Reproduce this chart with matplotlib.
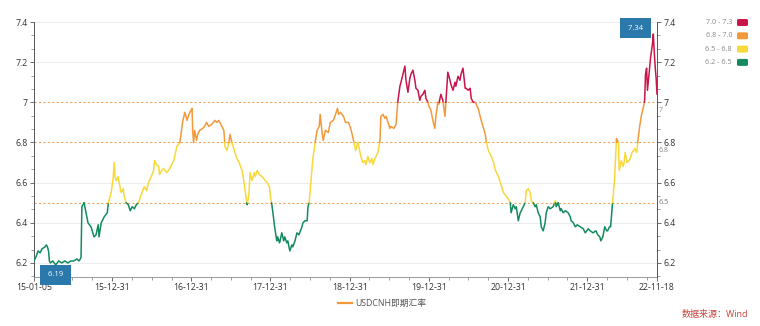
import matplotlib
matplotlib.use("Agg")
import matplotlib.pyplot as plt
import matplotlib.dates as mdates
from matplotlib.lines import Line2D
from matplotlib.patches import FancyBboxPatch
from matplotlib.ticker import AutoMinorLocator
import numpy as np
import datetime as dt

plt.rcParams['font.family'] = ['Open Sans', 'Noto Sans CJK SC', 'DejaVu Sans']

# USDCNH spot (month-day, rate) per year
y2015 = [("01-05", 6.21), ("01-14", 6.23), ("01-24", 6.26), ("02-02", 6.25), ("02-11", 6.27),
         ("02-25", 6.28), ("03-03", 6.29), ("03-08", 6.28), ("03-13", 6.26), ("03-17", 6.21),
         ("03-22", 6.20), ("04-01", 6.21), ("04-15", 6.19), ("04-29", 6.21), ("05-13", 6.20),
         ("05-27", 6.21), ("06-10", 6.20), ("06-24", 6.21), ("07-08", 6.21), ("07-22", 6.22),
         ("07-31", 6.21), ("08-07", 6.22), ("08-10", 6.23), ("08-14", 6.48), ("08-24", 6.50),
         ("09-02", 6.45), ("09-11", 6.40), ("09-25", 6.38), ("10-09", 6.33), ("10-18", 6.34),
         ("10-28", 6.39), ("11-01", 6.33), ("11-11", 6.40), ("11-25", 6.43), ("12-09", 6.45),
         ("12-14", 6.50), ("12-27", 6.55)]
y2016 = [("01-05", 6.62), ("01-10", 6.70), ("01-14", 6.63), ("01-19", 6.61), ("01-28", 6.63),
         ("02-02", 6.60), ("02-11", 6.55), ("02-21", 6.57), ("02-25", 6.53), ("03-05", 6.50),
         ("03-15", 6.49), ("03-24", 6.46), ("04-02", 6.48), ("04-12", 6.47), ("04-21", 6.49),
         ("05-01", 6.50), ("05-14", 6.54), ("05-24", 6.57), ("05-28", 6.58), ("06-07", 6.56),
         ("06-16", 6.60), ("06-25", 6.62), ("07-10", 6.66), ("07-14", 6.71), ("07-23", 6.69),
         ("08-02", 6.68), ("08-06", 6.64), ("08-16", 6.66), ("08-25", 6.67), ("09-08", 6.65),
         ("09-22", 6.67), ("10-01", 6.69), ("10-11", 6.71), ("10-25", 6.78), ("11-08", 6.80),
         ("11-18", 6.88), ("11-22", 6.91), ("12-01", 6.95), ("12-11", 6.91), ("12-20", 6.94),
         ("12-29", 6.96)]
y2017 = [("01-03", 6.97), ("01-06", 6.86), ("01-10", 6.80), ("01-15", 6.86), ("01-24", 6.81),
         ("01-29", 6.84), ("02-07", 6.86), ("02-21", 6.87), ("03-02", 6.88), ("03-11", 6.90),
         ("03-21", 6.88), ("04-04", 6.89), ("04-18", 6.91), ("04-27", 6.90), ("05-07", 6.91),
         ("05-16", 6.89), ("05-30", 6.86), ("06-04", 6.78), ("06-13", 6.76), ("06-22", 6.80),
         ("06-27", 6.84), ("07-06", 6.80), ("07-20", 6.75), ("07-29", 6.72), ("08-08", 6.70),
         ("08-22", 6.66), ("08-31", 6.60), ("09-05", 6.56), ("09-14", 6.49), ("09-19", 6.52),
         ("09-23", 6.55), ("09-28", 6.65), ("10-07", 6.61), ("10-17", 6.65), ("10-21", 6.63),
         ("10-31", 6.66), ("11-09", 6.64), ("11-23", 6.63), ("12-07", 6.61), ("12-16", 6.60),
         ("12-26", 6.58)]
y2018 = [("01-01", 6.52), ("01-05", 6.50), ("01-10", 6.46), ("01-19", 6.38), ("01-29", 6.31),
         ("02-02", 6.33), ("02-11", 6.30), ("02-21", 6.35), ("03-02", 6.31), ("03-07", 6.33),
         ("03-16", 6.30), ("03-21", 6.31), ("03-30", 6.26), ("04-09", 6.29), ("04-13", 6.28),
         ("04-23", 6.31), ("05-02", 6.35), ("05-11", 6.34), ("05-25", 6.38), ("05-30", 6.40),
         ("06-08", 6.41), ("06-18", 6.41), ("06-22", 6.48), ("06-27", 6.50), ("07-06", 6.61),
         ("07-11", 6.68), ("07-16", 6.73), ("07-25", 6.80), ("08-03", 6.86), ("08-13", 6.88),
         ("08-17", 6.94), ("08-27", 6.84), ("08-31", 6.81), ("09-10", 6.86), ("09-24", 6.85),
         ("10-03", 6.90), ("10-17", 6.91), ("10-27", 6.94), ("11-05", 6.97), ("11-10", 6.94),
         ("11-19", 6.95), ("12-03", 6.93), ("12-12", 6.90), ("12-26", 6.90)]
y2019 = [("01-05", 6.87), ("01-14", 6.83), ("01-24", 6.78), ("01-28", 6.76), ("02-07", 6.80),
         ("02-11", 6.78), ("02-21", 6.73), ("03-02", 6.70), ("03-11", 6.71), ("03-16", 6.69),
         ("03-25", 6.73), ("04-03", 6.70), ("04-13", 6.72), ("04-17", 6.69), ("04-27", 6.72),
         ("05-06", 6.74), ("05-10", 6.75), ("05-20", 6.81), ("05-24", 6.93), ("06-03", 6.94),
         ("06-12", 6.92), ("06-17", 6.93), ("06-26", 6.90), ("07-05", 6.87), ("07-10", 6.88),
         ("07-23", 6.87), ("08-02", 6.89), ("08-11", 7.01), ("08-20", 7.08), ("08-25", 7.10),
         ("09-03", 7.14), ("09-12", 7.18), ("09-17", 7.11), ("09-26", 7.05), ("10-05", 7.12),
         ("10-10", 7.14), ("10-19", 7.16), ("10-28", 7.11), ("11-02", 7.07), ("11-11", 7.06),
         ("11-20", 7.01), ("11-25", 7.03), ("12-04", 7.04), ("12-13", 7.06), ("12-18", 7.02),
         ("12-27", 7.00)]
y2020 = [("01-01", 6.98), ("01-10", 6.96), ("01-19", 6.91), ("01-28", 6.87), ("02-02", 6.93),
         ("02-11", 7.00), ("02-15", 6.99), ("02-25", 7.04), ("03-05", 7.01), ("03-15", 6.93),
         ("03-19", 7.00), ("03-28", 7.15), ("04-07", 7.11), ("04-11", 7.09), ("04-21", 7.06),
         ("04-30", 7.10), ("05-04", 7.08), ("05-14", 7.13), ("05-23", 7.11), ("05-28", 7.14),
         ("06-06", 7.17), ("06-16", 7.07), ("06-20", 7.07), ("06-30", 7.06), ("07-09", 7.07),
         ("07-14", 7.02), ("07-23", 7.00), ("08-01", 7.00), ("08-06", 6.99), ("08-15", 6.97),
         ("08-29", 6.91), ("09-17", 6.84), ("09-22", 6.80), ("10-01", 6.76), ("10-06", 6.75),
         ("10-15", 6.73), ("10-25", 6.70), ("11-03", 6.66), ("11-17", 6.63), ("12-01", 6.58),
         ("12-10", 6.55), ("12-24", 6.53)]
y2021 = [("01-01", 6.52), ("01-10", 6.50), ("01-14", 6.45), ("01-24", 6.49), ("02-02", 6.47),
         ("02-07", 6.48), ("02-16", 6.41), ("02-25", 6.45), ("03-02", 6.46), ("03-11", 6.48),
         ("03-20", 6.50), ("03-25", 6.56), ("04-03", 6.57), ("04-12", 6.55), ("04-17", 6.51),
         ("04-26", 6.50), ("05-05", 6.48), ("05-10", 6.49), ("05-19", 6.45), ("05-28", 6.43),
         ("06-02", 6.38), ("06-11", 6.36), ("06-20", 6.40), ("06-25", 6.45), ("07-04", 6.48),
         ("07-13", 6.47), ("07-27", 6.48), ("08-06", 6.51), ("08-10", 6.48), ("08-19", 6.50),
         ("08-29", 6.46), ("09-02", 6.47), ("09-11", 6.45), ("09-21", 6.46), ("10-04", 6.45),
         ("10-14", 6.43), ("10-18", 6.41), ("10-28", 6.40), ("11-06", 6.38), ("11-15", 6.39),
         ("11-29", 6.38), ("12-13", 6.37), ("12-22", 6.35)]
y2022 = [("01-05", 6.37), ("01-14", 6.36), ("01-27", 6.35), ("02-09", 6.36), ("02-18", 6.34),
         ("02-27", 6.33), ("03-04", 6.31), ("03-13", 6.33), ("03-22", 6.38), ("03-31", 6.36),
         ("04-04", 6.36), ("04-13", 6.38), ("04-18", 6.38), ("04-27", 6.50), ("05-06", 6.61),
         ("05-15", 6.82), ("05-24", 6.80), ("05-28", 6.66), ("06-06", 6.71), ("06-15", 6.68),
         ("06-19", 6.70), ("06-24", 6.75), ("07-03", 6.70), ("07-12", 6.71), ("07-21", 6.73),
         ("07-25", 6.75), ("08-03", 6.76), ("08-08", 6.77), ("08-17", 6.75), ("08-21", 6.80),
         ("08-30", 6.88), ("09-08", 6.94), ("09-17", 6.98), ("09-22", 7.01), ("09-26", 7.14),
         ("10-01", 7.17), ("10-05", 7.06), ("10-14", 7.16), ("10-19", 7.22), ("10-28", 7.29),
         ("11-01", 7.34), ("11-06", 7.24), ("11-10", 7.17), ("11-14", 7.12), ("11-18", 7.04)]

years = {2015: y2015, 2016: y2016, 2017: y2017, 2018: y2018,
         2019: y2019, 2020: y2020, 2021: y2021, 2022: y2022}

x_ticks = ["2015-01-05", "2015-12-31", "2016-12-31", "2017-12-31", "2018-12-31",
           "2019-12-31", "2020-12-31", "2021-12-31", "2022-11-18"]
x_ticklabels = ["15-01-05", "15-12-31", "16-12-31", "17-12-31", "18-12-31",
                "19-12-31", "20-12-31", "21-12-31", "22-11-18"]
y_ticks = [6.2, 6.4, 6.6, 6.8, 7.0, 7.2, 7.4]
y_ticklabels = ["6.2", "6.4", "6.6", "6.8", "7", "7.2", "7.4"]
mark_levels = [7.0, 6.8, 6.5]
mark_labels = ["7", "6.8", "6.5"]

band_edges = [7.0, 6.8, 6.5]
band_labels = ["7.0 - 7.3", "6.8 - 7.0", "6.5 - 6.8", "6.2 - 6.5"]
band_colors = ["#c8154a", "#f29a3b", "#f8d83a", "#138b5e"]
series_name = "USDCNH即期汇率"
source_text = "数据来源：Wind"


def to_date(s):
    return dt.datetime.strptime(s, "%Y-%m-%d")


def band_color(v):
    for edge, col in zip(band_edges, band_colors):
        if v >= edge:
            return col
    return band_colors[-1]


dates, rates = [], []
for yr, rows in years.items():
    for md, v in rows:
        dates.append(to_date(f"{yr}-{md}"))
        rates.append(v)
xs = mdates.date2num(dates)
rates = np.array(rates)

fig = plt.figure(figsize=(7.6, 3.26), dpi=100)
ax = fig.add_axes([34 / 760, 49 / 326, 623 / 760, 255 / 326])
ax.set_xlim(to_date(x_ticks[0]), to_date(x_ticks[-1]))
ax.set_ylim(6.13, 7.4)

# grid + mark lines
for v in y_ticks:
    if v not in mark_levels:
        ax.axhline(v, color="#e9e9e9", lw=0.6, zorder=0)
for v in mark_levels:
    ax.axhline(v, color="#f2a65e", lw=0.8, ls=(0, (2, 2)), zorder=1)

# split the line where it crosses a band edge, one colour per run
runs = []
cur_x, cur_y, cur_c = [xs[0]], [rates[0]], band_color(rates[0])
for i in range(1, len(xs)):
    x0, y0, x1, y1 = xs[i - 1], rates[i - 1], xs[i], rates[i]
    cuts = sorted((e - y0) / (y1 - y0) for e in band_edges
                  if (y0 < e <= y1) or (y1 < e <= y0))
    for t in cuts:
        xc, yc = x0 + t * (x1 - x0), y0 + t * (y1 - y0)
        cur_x.append(xc)
        cur_y.append(yc)
        runs.append((cur_x, cur_y, cur_c))
        cur_x, cur_y = [xc], [yc]
        cur_c = band_color(yc + 1e-6 * np.sign(y1 - y0))
    cur_x.append(x1)
    cur_y.append(y1)
runs.append((cur_x, cur_y, cur_c))
for rx, ry, c in runs:
    ax.plot(rx, ry, color=c, lw=1.1, solid_capstyle="round", solid_joinstyle="round", zorder=4)

# max / min boxes
imax, imin = int(np.argmax(rates)), int(np.argmin(rates))
box = dict(boxstyle="square,pad=0.8", fc="#2b78ab", ec="none")
ax.annotate(f" {rates[imax]:.2f} ", xy=(xs[imax], rates[imax]), xytext=(-18, 6),
            textcoords="offset pixels", ha="center", va="center", color="white",
            fontsize=5.5, bbox=box, zorder=5, annotation_clip=False)
ax.annotate(f" {rates[imin]:.2f} ", xy=(xs[imin], rates[imin]), xytext=(0, -10),
            textcoords="offset pixels", ha="center", va="center", color="white",
            fontsize=5.5, bbox=box, zorder=3, annotation_clip=False)

# axes styling
ax.set_xticks([to_date(d) for d in x_ticks])
ax.set_xticklabels(x_ticklabels)
quarters = [dt.datetime(y, m, 1) for y in range(2015, 2023) for m in (4, 7, 10)]
ax.set_xticks([q for q in quarters if q < to_date(x_ticks[-1])], minor=True)
ax.set_yticks(y_ticks)
ax.set_yticklabels(y_ticklabels)
ax.yaxis.set_minor_locator(AutoMinorLocator(3))
ax.tick_params(axis="both", which="major", labelsize=6.3, colors="#555", labelcolor="#333",
               length=3, width=0.6, pad=1.5)
ax.tick_params(axis="both", which="minor", colors="#777", length=2, width=0.5)
ax.spines["top"].set_visible(False)
ax.spines["right"].set_visible(False)
ax.spines["left"].set_color("#555")
ax.spines["left"].set_linewidth(0.7)
ax.spines["bottom"].set_color("#999")
ax.spines["bottom"].set_linewidth(0.7)

ax2 = ax.twinx()
ax2.set_ylim(ax.get_ylim())
ax2.set_yticks(y_ticks)
ax2.set_yticklabels(y_ticklabels)
ax2.yaxis.set_minor_locator(AutoMinorLocator(3))
ax2.tick_params(axis="y", which="major", labelsize=6.3, colors="#555", labelcolor="#333",
                length=3, width=0.6, pad=1.5)
ax2.tick_params(axis="y", which="minor", colors="#777", length=2, width=0.5)
for s in ("top", "left", "bottom"):
    ax2.spines[s].set_visible(False)
ax2.spines["right"].set_color("#555")
ax2.spines["right"].set_linewidth(0.7)

# mark line labels; 7 and 6.8 sit just under the axis labels of the same value
for v, lab in zip(mark_levels, mark_labels):
    if v == 6.5:
        ax.text(1.003, v, lab, transform=ax.get_yaxis_transform(), fontsize=5.2,
                color="#777", ha="left", va="center")
    else:
        ax.annotate(lab, xy=(1.0, v), xycoords=ax.get_yaxis_transform(),
                    xytext=(2, -5), textcoords="offset pixels", fontsize=5.0,
                    color="#888", ha="left", va="top")

# piecewise legend top right
for i, (lab, col) in enumerate(zip(band_labels, band_colors)):
    yc = 1 - (22.5 + i * 13.3) / 326
    fig.text(732 / 760, yc, lab, fontsize=5.2, color="#888", ha="right", va="center")
    fig.patches.append(FancyBboxPatch((737 / 760, yc - 3.5 / 326), 11 / 760, 7 / 326,
                                      boxstyle="round,pad=0,rounding_size=0.003",
                                      transform=fig.transFigure, fc=col, ec="none"))

# series legend bottom
fig.add_artist(Line2D([338 / 760, 352 / 760], [1 - 303 / 326] * 2, color=band_colors[1],
                      lw=1.6, transform=fig.transFigure))
fig.text(355 / 760, 1 - 303 / 326, series_name, fontsize=6.3, color="#555", ha="left", va="center")
fig.text(748 / 760, 1 - 315 / 326, source_text, fontsize=6.5, color="#c8453c", ha="right", va="center")

fig.savefig("out.png", dpi=100)
